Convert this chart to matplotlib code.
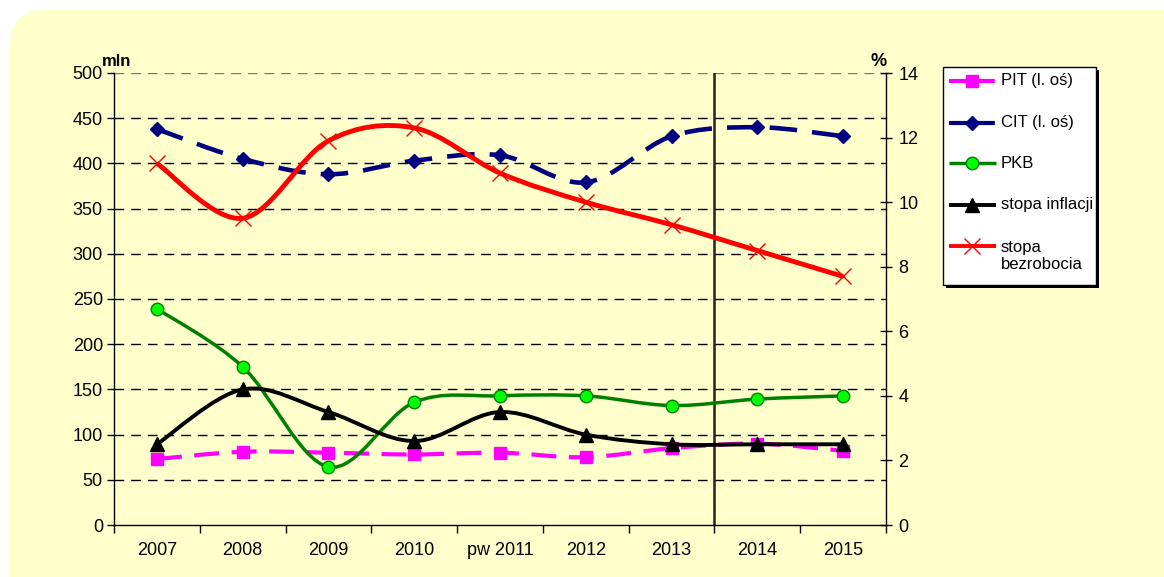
import matplotlib
matplotlib.use("Agg")
import matplotlib.pyplot as plt
import numpy as np
from matplotlib.path import Path
from matplotlib.patches import PathPatch, FancyBboxPatch, Rectangle
from matplotlib.lines import Line2D

plt.rcParams['font.family'] = ['Liberation Sans', 'DejaVu Sans']

categories = ["2007", "2008", "2009", "2010", "pw 2011", "2012", "2013", "2014", "2015"]
pit = [73, 81, 80, 78, 80, 75, 85, 90, 82]
cit = [438, 405, 388, 403, 409, 379, 430, 440, 430]
pkb = [6.7, 4.9, 1.8, 3.8, 4.0, 4.0, 3.7, 3.9, 4.0]
inflacja = [2.5, 4.2, 3.5, 2.6, 3.5, 2.8, 2.5, 2.5, 2.5]
bezrobocie = [11.2, 9.5, 11.9, 12.3, 10.9, 10.0, 9.3, 8.5, 7.7]
left_ticks = list(range(0, 501, 50))
right_ticks = list(range(0, 15, 2))

W, H = 1164, 577
fig = plt.figure(figsize=(W / 100, H / 100), dpi=100)
fig.patch.set_facecolor("white")
bg = FancyBboxPatch((10 / W, -0.2), 1.2, (H - 10) / H + 0.2, boxstyle="round,pad=0,rounding_size=0.03",
                    transform=fig.transFigure, facecolor="#FFFFCC", edgecolor="none", zorder=-5,
                    mutation_aspect=W / H)
fig.patches.append(bg)

L, R, T, B = 114, 886, 73, 525
ax = fig.add_axes([L / W, 1 - B / H, (R - L) / W, (B - T) / H])
ax.set_facecolor("none")
ax2 = ax.twinx()
ax2.set_facecolor("none")

x = np.arange(len(categories))


def smooth_path(xs, ys):
    pts = np.column_stack([xs, ys]).astype(float)
    verts = [tuple(pts[0])]
    codes = [Path.MOVETO]
    n = len(pts)
    for i in range(n - 1):
        p0 = pts[i - 1] if i > 0 else pts[i]
        p1 = pts[i]
        p2 = pts[i + 1]
        p3 = pts[i + 2] if i + 2 < n else pts[i + 1]
        c1 = p1 + (p2 - p0) / 6.0
        c2 = p2 - (p3 - p1) / 6.0
        verts += [tuple(c1), tuple(c2), tuple(p2)]
        codes += [Path.CURVE4] * 3
    return Path(verts, codes)


def draw_series(a, ys, color, ls, lw, marker, ms, mfc, mec, mew, z):
    patch = PathPatch(smooth_path(x, ys), facecolor="none", edgecolor=color, linestyle=ls,
                      linewidth=lw, zorder=z, capstyle="butt")
    a.add_patch(patch)
    a.plot(x, ys, linestyle="none", marker=marker, markersize=ms, markerfacecolor=mfc,
           markeredgecolor=mec, markeredgewidth=mew, zorder=z + 0.1)


# left axis series
draw_series(ax, pit, "#FF00FF", (0, (6, 3)), 3, "s", 9, "#FF00FF", "#FF00FF", 1, 3)
draw_series(ax, cit, "#000080", (0, (6, 3.3)), 3.3, "D", 7, "#000080", "#000080", 1, 3)
# right axis series
draw_series(ax2, pkb, "#008000", "-", 2.5, "o", 9, "#00FF00", "#008000", 1, 3)
draw_series(ax2, inflacja, "black", "-", 2.8, "^", 10, "black", "black", 1, 3)
draw_series(ax2, bezrobocie, "#FF0000", "-", 3.5, "x", 11, "#FF0000", "#FF0000", 1, 3)

ax.set_xlim(-0.5, len(categories) - 0.5)
ax.set_ylim(0, 500)
ax2.set_ylim(0, 14)

FS = 13
ax.set_yticks(left_ticks)
ax.set_yticklabels([str(v) for v in left_ticks], fontsize=FS)
ax2.set_yticks(right_ticks)
ax2.set_yticklabels([str(v) for v in right_ticks], fontsize=FS)

ax.set_xticks(x)
ax.set_xticklabels(categories, fontsize=FS)
ax.tick_params(axis="x", which="major", length=0, pad=12)
ax.set_xticks(np.arange(-0.5, len(categories), 1), minor=True)
ax.tick_params(axis="x", which="minor", length=6, direction="out", width=1)
ax.tick_params(axis="y", length=5, direction="out", width=1, pad=3)
ax2.tick_params(axis="y", length=8, direction="inout", width=1, pad=5)

for v in left_ticks[1:]:
    ax.axhline(v, color="black" if v < 500 else "#777777", linestyle=(0, (7, 5)), linewidth=1, zorder=1)

ax.axvline(6.5, color="#222222", linewidth=1.8, zorder=2)

for a in (ax, ax2):
    a.spines["top"].set_visible(False)
ax.spines["right"].set_visible(False)
ax2.spines["left"].set_visible(False)
ax2.spines["bottom"].set_visible(False)
ax.spines["left"].set_linewidth(1)
ax.spines["bottom"].set_linewidth(1)
ax2.spines["right"].set_linewidth(1)

fig.text(131 / W, 1 - 62 / H, "mln", fontsize=12, fontweight="bold", ha="right", va="center")
fig.text(887 / W, 1 - 61 / H, "%", fontsize=13, fontweight="bold", ha="right", va="center")

# legend
lx0, ly0, lx1, ly1 = 943, 67, 1096, 285
fig.patches.append(Rectangle((lx0 / W + 3 / W, 1 - (ly1 + 3) / H), (lx1 - lx0) / W, (ly1 - ly0) / H,
                             transform=fig.transFigure, facecolor="black", edgecolor="none", zorder=5))
fig.patches.append(Rectangle((lx0 / W, 1 - ly1 / H), (lx1 - lx0) / W, (ly1 - ly0) / H,
                             transform=fig.transFigure, facecolor="white", edgecolor="black",
                             linewidth=1, zorder=6))
LFS = 12
entries = [
    ("PIT (l. oś)", "#FF00FF", (0, (11, 2.3)), 3, "s", 9, "#FF00FF", "#FF00FF", 81),
    ("CIT (l. oś)", "#000080", (0, (11, 2.3)), 3, "D", 7, "#000080", "#000080", 123),
    ("PKB", "#008000", "-", 2.5, "o", 9, "#00FF00", "#008000", 163),
    ("stopa inflacji", "black", "-", 2.8, "^", 10, "black", "black", 205),
]
for label, c, ls, lw, m, ms, mfc, mec, yy in entries:
    yf = 1 - yy / H
    fig.lines.append(Line2D([949 / W, 996 / W], [yf, yf], transform=fig.transFigure, color=c,
                            linestyle=ls, linewidth=lw, zorder=7, solid_capstyle="butt",
                            dash_capstyle="butt"))
    fig.lines.append(Line2D([972 / W], [yf], transform=fig.transFigure, marker=m, markersize=ms,
                            markerfacecolor=mfc, markeredgecolor=mec, linestyle="none", zorder=8))
    fig.text(1001 / W, yf, label, fontsize=LFS, ha="left", va="center", zorder=9)
yf = 1 - 246 / H
fig.lines.append(Line2D([949 / W, 996 / W], [yf, yf], transform=fig.transFigure, color="#FF0000",
                        linewidth=2.8, zorder=7, solid_capstyle="butt"))
fig.lines.append(Line2D([972 / W], [yf], transform=fig.transFigure, marker="x", markersize=11,
                        markeredgecolor="#FF0000", linestyle="none", zorder=8))
fig.text(1001 / W, 1 - 256 / H, "stopa\nbezrobocia", fontsize=LFS, ha="left", va="center",
         linespacing=1.2, zorder=9)

fig.savefig("out.png", dpi=100, facecolor=fig.get_facecolor())
